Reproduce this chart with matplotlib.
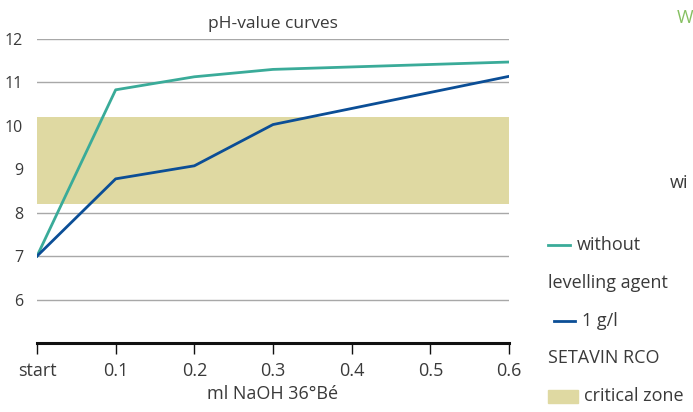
import matplotlib
matplotlib.use('Agg')
import matplotlib.pyplot as plt
from matplotlib.lines import Line2D
from matplotlib.patches import Rectangle

plt.rcParams['font.family'] = ['Open Sans', 'DejaVu Sans']

# data
x_vals = [0, 0.1, 0.2, 0.3, 0.6]
without_agent = [7.0, 10.83, 11.13, 11.3, 11.47]
setavin_1gl = [7.0, 8.78, 9.08, 10.03, 11.14]
critical_zone = (8.2, 10.2)
x_ticks = [0, 0.1, 0.2, 0.3, 0.4, 0.5, 0.6]
x_labels = ['start', '0.1', '0.2', '0.3', '0.4', '0.5', '0.6']
y_ticks = [6, 7, 8, 9, 10, 11, 12]

teal = '#3aab99'
blue = '#0b4e96'
zone_col = '#dfd9a2'
txt = '#3a3a3a'

fig = plt.figure(figsize=(6.93, 4.12), dpi=100)
ax = fig.add_axes([37/693, 1-343/412, 472/693, 304/412])

ax.axhspan(critical_zone[0], critical_zone[1], color=zone_col, zorder=1, lw=0)
for y in y_ticks:
    ax.axhline(y, color='#a8a8a8', lw=1, zorder=0.5)
ax.plot(x_vals, without_agent, color=teal, lw=2, zorder=3)
ax.plot(x_vals, setavin_1gl, color=blue, lw=2, zorder=3)

ax.set_xlim(0, 0.6)
ax.set_ylim(5, 12)
ax.set_xticks(x_ticks)
ax.set_xticklabels(x_labels)
ax.set_yticks(y_ticks)
for s in ['top', 'right', 'left']:
    ax.spines[s].set_visible(False)
ax.spines['bottom'].set_linewidth(2.2)
ax.spines['bottom'].set_color('#111111')
ax.tick_params(axis='x', length=8, width=1, color='#111111', labelsize=13,
               labelcolor=txt, pad=6)
ax.tick_params(axis='y', length=0, labelsize=11.5, labelcolor=txt, pad=10)
ax.set_xlabel('ml NaOH 36°Bé', fontsize=13, color=txt, labelpad=3)
ax.set_title('pH-value curves', fontsize=12.5, color=txt, pad=8)

# legend on the right
fig.add_artist(Line2D([548/693, 570/693], [1-245/412]*2, color=teal, lw=2))
fig.text(577/693, 1-245/412, 'without', fontsize=13, color=txt, va='center')
fig.text(548/693, 1-283/412, 'levelling agent', fontsize=13, color=txt, va='center')
fig.add_artist(Line2D([554/693, 575/693], [1-321/412]*2, color=blue, lw=2))
fig.text(582/693, 1-321/412, '1 g/l', fontsize=13, color=txt, va='center')
fig.text(548/693, 1-358/412, 'SETAVIN RCO', fontsize=13, color=txt, va='center')
fig.add_artist(Rectangle((548/693, 1-403/412), 30/693, 13/412, color=zone_col,
                         transform=fig.transFigure))
fig.text(584/693, 1-396/412, 'critical zone', fontsize=13, color=txt, va='center')

fig.text(670/693, 1-183/412, 'wi', fontsize=13, color=txt, va='center')
fig.text(677/693, 1-18/412, 'W', fontsize=13, color='#86c062', va='center')

fig.savefig('out.png', dpi=100)
